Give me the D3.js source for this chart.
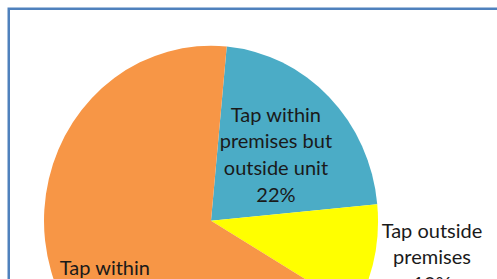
<!DOCTYPE html>
<html>
<head>
<meta charset="utf-8">
<script src="https://cdn.jsdelivr.net/npm/d3@7"></script>
<style>
  html, body { margin: 0; padding: 0; background: #fff; overflow: hidden; }
  svg { display: block; }
</style>
</head>
<body>
<div id="chart"></div>
<script>
'use strict';

// water source shares (%), clockwise from the blue slice
// label lines are wrapped the way the chart wraps them
var categories = [
    ['Tap within', 'premises but', 'outside unit'],
    ['Tap outside', 'premises'],
    ['Tap within', 'unit']
];
var values = [22, 10, 68];
var colors = ['#4BACC6', '#FFFF00', '#F79646'];

var width = 497;
var height = 279;
var cx = 211;
var cy = 220.7;
var rx = 167;
var ry = 175;
var startAngle = 5.4 * Math.PI / 180;
var lineHeight = 26.7;

var svg = d3.select('#chart').append('svg')
    .attr('width', width)
    .attr('height', height);

svg.append('rect')
    .attr('x', 8.75)
    .attr('y', 8.75)
    .attr('width', 600)
    .attr('height', 400)
    .attr('fill', '#fff')
    .attr('stroke', '#4F81BD')
    .attr('stroke-width', 2.5);

var pie = d3.pie()
    .sort(null)
    .startAngle(startAngle)
    .endAngle(startAngle + 2 * Math.PI)
    .value(function (d) { return d; });

var arc = d3.arc().innerRadius(0).outerRadius(rx);

var arcs = pie(values);

var plot = svg.append('g')
    .attr('transform', 'translate(' + cx + ',' + cy + ') scale(1,' + (ry / rx) + ')');

plot.selectAll('path')
    .data(arcs)
    .enter().append('path')
    .attr('d', arc)
    .attr('fill', function (d, i) { return colors[i]; });

// label anchors: radius factor and a small nudge, one per slice
var labelRadius = [0.55, 1.356, 0.74];
var labelNudge = [[0, 2], [0, -15], [4, 15]];

var labels = svg.append('g')
    .attr('font-family', 'Lato, "Open Sans", sans-serif')
    .attr('font-size', 20)
    .attr('fill', '#1a1a1a');

arcs.forEach(function (d, i) {
    var lines = categories[i].concat([values[i] + '%']);
    var mid = (d.startAngle + d.endAngle) / 2;
    var r = rx * labelRadius[i];
    var x = cx + Math.sin(mid) * r + labelNudge[i][0];
    var y = cy - Math.cos(mid) * r * (ry / rx) + labelNudge[i][1];
    var top = y - (lines.length - 1) * lineHeight / 2 + 7;
    var t = labels.append('text')
        .attr('text-anchor', 'middle');
    lines.forEach(function (l, k) {
        t.append('tspan')
            .attr('x', x)
            .attr('y', top + k * lineHeight)
            .text(l);
    });
});
</script>
</body>
</html>
